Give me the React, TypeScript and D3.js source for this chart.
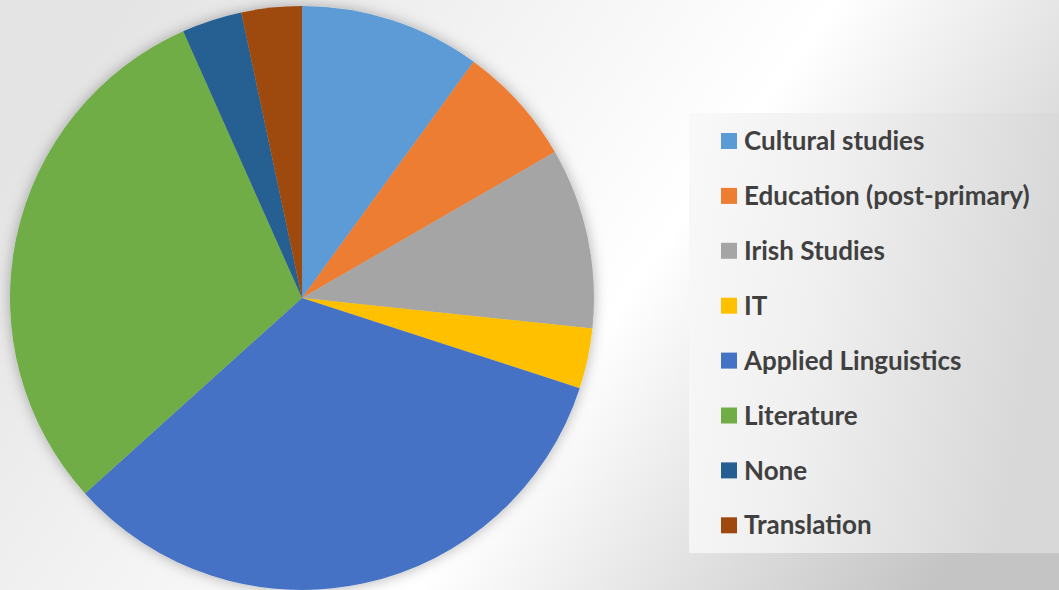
import React from 'react';
import {pie, arc} from 'd3';

// share of respondents per area (out of 30)
const categories = [
    'Cultural studies',
    'Education (post-primary)',
    'Irish Studies',
    'IT',
    'Applied Linguistics',
    'Literature',
    'None',
    'Translation',
];
const counts = [3, 2, 3, 1, 10, 9, 1, 1];
const colors = ['#5B9BD5', '#ED7D31', '#A5A5A5', '#FFC000', '#4472C4', '#70AD47', '#255E91', '#9E480E'];

const width = 1059;
const height = 590;
const centerX = 302;
const centerY = 298;
const radius = 292;

export default function App() {
    const data = categories.map((name, i) => ({name, value: counts[i], color: colors[i]}));

    const slices = pie<any>().value(d => d.value).sort(null)(data);
    const pieArc = arc<any>().innerRadius(0).outerRadius(radius);

    const legendX = 689;
    const legendY = 113;
    const rowTop = 141;
    const rowStep = 54.9;

    return (
        <div style={{position: 'absolute', left: 0, top: 0}}>
            <svg width={width} height={height} style={{display: 'block'}}>
                <defs>
                    <linearGradient id="bg" x1="0" y1="0.3" x2="1" y2="0.7">
                        <stop offset="0" stopColor="#e4e4e4" />
                        <stop offset="0.58" stopColor="#ffffff" />
                        <stop offset="1" stopColor="#c4c4c4" />
                    </linearGradient>
                    <linearGradient id="legendBg" x1="0" y1="0" x2="1" y2="0.2">
                        <stop offset="0" stopColor="#f9f9f9" />
                        <stop offset="0.4" stopColor="#f0f0f0" />
                        <stop offset="1" stopColor="#d8d8d8" />
                    </linearGradient>
                    <filter id="shadow" x="-20%" y="-20%" width="140%" height="140%">
                        <feDropShadow dx="0" dy="0" stdDeviation="7" floodColor="#000" floodOpacity="0.3" />
                    </filter>
                </defs>
                <rect width={width} height={height} fill="url(#bg)" />

                <g transform={`translate(${centerX},${centerY})`} filter="url(#shadow)">
                    {slices.map((d, idx) => (
                        <path key={idx} d={pieArc(d) as string} fill={d.data.color} />
                    ))}
                </g>

                <rect x={legendX} y={legendY} width={width - legendX} height={440} fill="url(#legendBg)" />
                {data.map((d, idx) => {
                    const cy = rowTop + idx * rowStep;
                    return (
                        <g key={idx}>
                            <rect x={721} y={cy - 8} width={16} height={16} fill={d.color} />
                            <text
                                x={744}
                                y={cy}
                                dy="0.35em"
                                fontFamily="Lato, sans-serif"
                                fontWeight={700}
                                fontSize={26}
                                fill="#404040"
                            >
                                {d.name}
                            </text>
                        </g>
                    );
                })}
            </svg>
        </div>
    );
}
